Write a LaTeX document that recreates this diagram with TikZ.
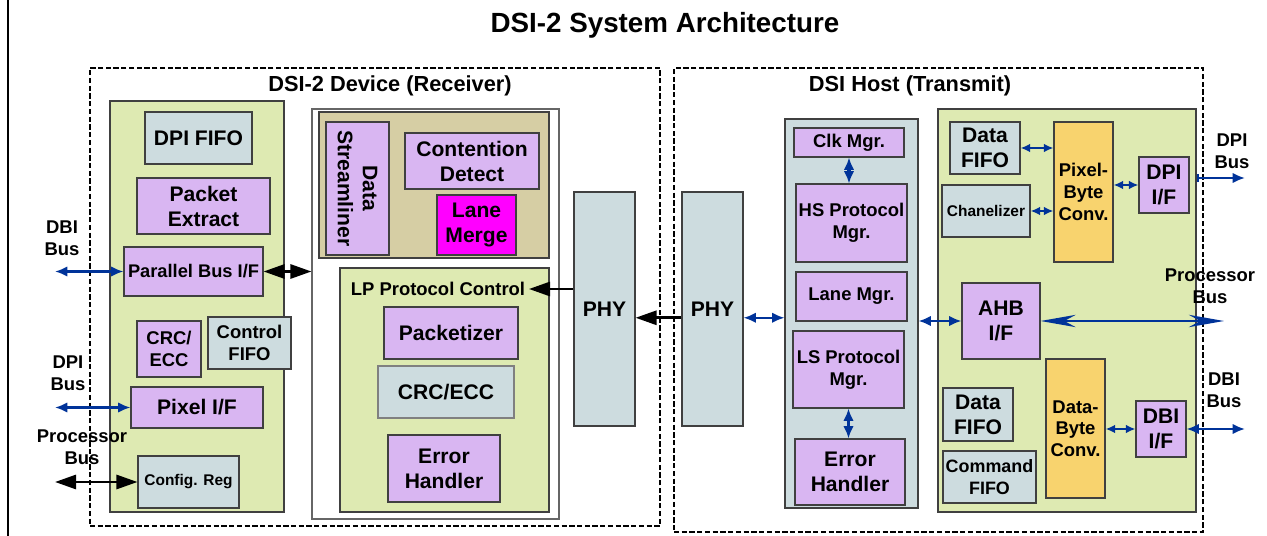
\documentclass[tikz,border=0pt]{standalone}
\usepackage{fontspec}
\setmainfont{Liberation Sans}
\usetikzlibrary{arrows.meta,calc}
\definecolor{Purp}{RGB}{217,182,242}
\definecolor{Slate}{RGB}{205,220,223}
\definecolor{Lime}{RGB}{222,234,178}
\definecolor{Tan}{RGB}{214,206,164}
\definecolor{Conv}{RGB}{248,211,110}
\definecolor{Mag}{RGB}{255,0,255}
\definecolor{Bus}{RGB}{0,51,153}
\definecolor{Edge}{RGB}{64,64,64}
\newcommand*{\px}{0.02cm}
\newcommand*{\fT}{\fontsize{15.8}{18}\selectfont\bfseries}
\newcommand*{\fH}{\fontsize{12.4}{14}\selectfont\bfseries}
\newcommand*{\fL}{\fontsize{12}{14.2}\selectfont\bfseries}
\newcommand*{\fM}{\fontsize{10.5}{12.3}\selectfont\bfseries}
\newcommand*{\fS}{\fontsize{8.8}{10.5}\selectfont\bfseries}
% block: style, name, x1, y1, x2, y2, text (pixel coordinates)
\newcommand{\blk}[7]{\node[#1,minimum width={(#5-#3)*\px},minimum height={(#6-#4)*\px}] (#2) at ({(#3+#5)/2},{(#4+#6)/2}) {#7};}
\tikzset{
	base/.style={draw=Edge,line width=0.6pt,inner sep=1pt,align=center,font=\fL},
	purp/.style={base,fill=Purp},
	slate/.style={base,fill=Slate},
	conv/.style={base,fill=Conv},
	panel/.style={draw=Edge,line width=0.6pt,fill=Lime,inner sep=0pt},
	frame/.style={draw=black,line width=1.3pt,dash pattern=on 3pt off 1.4pt,inner sep=0pt},
	lbl/.style={align=center,font=\fM,inner sep=0pt},
	barrow/.style={Bus,line width=1.3pt,{Latex[length=7pt,width=6pt]}-{Latex[length=7pt,width=6pt]}},
	hbarrow/.style={Bus,line width=1.1pt,{Latex[length=5.5pt,width=5pt]}-{Latex[length=5.5pt,width=5pt]}},
	karrow/.style={black,line width=1.6pt,-{Triangle[length=12pt,width=8pt]}},
	kboth/.style={karrow,{Triangle[length=12pt,width=8pt]}-{Triangle[length=12pt,width=8pt]}},
}
\begin{document}
\begin{tikzpicture}[x=0.02cm,y=-0.02cm]
\useasboundingbox (0,0) rectangle (1267,536);
%
%\draw[step=50,gray,very thin,opacity=0.2] (0,0) grid (1267,536);
%
\draw[line width=1.2pt] (8,0) -- (8,536);
\node[font=\fT] (title) at (665,25) {DSI-2 System Architecture};

% ---- receiver side
\begin{scope}
\blk{frame}{dev}{90}{68}{660}{526}{}
\node[font=\fH] (devtitle) at (390,86) {DSI-2 Device (Receiver)};

\blk{panel}{dpan}{110}{101}{284}{512}{}
\blk{slate}{dpififo}{145}{112}{252}{164}{DPI FIFO}
\blk{purp}{pkext}{137}{178}{270}{234}{Packet\\Extract}
\blk{purp,font=\fontsize{10.4}{12}\selectfont\bfseries}{parbus}{124}{247}{263}{296}{Parallel Bus I/F}
\blk{purp,font=\fM}{crcl}{137}{321}{201}{377}{CRC/\\ECC}
\blk{slate,font=\fM}{ctlfifo}{208}{317}{291}{369}{Control\\FIFO}
\blk{purp}{pixif}{131}{387}{263}{428}{Pixel I/F}
\blk{slate,font=\fS}{cfgreg}{138}{456}{239}{508}{Config. Reg}

\blk{base,draw=gray!80!black,fill=white}{mid}{312}{109}{559}{519}{}
\blk{base,fill=Tan}{tanbox}{319}{112}{549}{258}{}
\node[purp,rotate=-90,minimum width={(255-122)*\px},minimum height={(389-326)*\px}] (dstream) at ({(326+389)/2},{(122+255)/2}) {Data\\Streamliner};
\blk{purp}{contd}{405}{133}{539}{189}{Contention\\Detect}
\blk{purp,fill=Mag}{lmerge}{437}{195}{516}{255}{Lane\\Merge}
\blk{panel}{lpc}{340}{268}{549}{512}{}
\node[font=\fM,anchor=west,inner sep=2pt] (lptext) at (347,289) {LP Protocol Control};
\blk{purp}{pktz}{384}{307}{518}{359}{Packetizer}
\blk{slate,draw=gray}{crcm}{378}{366}{514}{418}{CRC/ECC}
\blk{purp}{derr}{388}{435}{500}{502}{Error\\Handler}
\blk{slate}{dphy}{574}{192}{635}{426}{PHY}
\end{scope}

% ---- transmitter side
\begin{scope}
\blk{frame}{host}{674}{68}{1203}{532}{}
\node[font=\fH] (hosttitle) at (910,86) {DSI Host (Transmit)};
\blk{slate}{hphy}{682}{192}{743}{426}{PHY}

\blk{slate}{mgr}{785}{119}{918}{508}{}
\blk{purp,font=\fM}{clk}{794}{128}{904}{157}{Clk Mgr.}
\blk{purp,font=\fM}{hsp}{796}{184}{907}{262}{HS Protocol\\Mgr.}
\blk{purp,font=\fM}{lane}{796}{272}{907}{321}{Lane Mgr.}
\blk{purp,font=\fM}{lsp}{793}{331}{904}{408}{LS Protocol\\Mgr.}
\blk{purp}{herr}{795}{439}{905}{505}{Error\\Handler}

\blk{panel}{hpan}{938}{109}{1196}{512}{}
\blk{slate}{hdfifo}{950}{122}{1020}{174}{Data\\FIFO}
\blk{slate,font=\fS}{chan}{942}{185}{1030}{237}{Chanelizer}
\blk{conv,font=\fM}{pbconv}{1054}{122}{1113}{262}{Pixel-\\Byte\\Conv.}
\blk{purp}{dpiif}{1139}{157}{1189}{213}{DPI\\I/F}
\blk{purp}{ahb}{962}{283}{1040}{359}{AHB\\I/F}
\blk{slate}{hdfifo2}{943}{388}{1013}{441}{Data\\FIFO}
\blk{slate,font=\fontsize{10.2}{12.3}\selectfont\bfseries}{cmdfifo}{943}{451}{1036}{503}{Command\\FIFO}
\blk{conv,font=\fM}{dbconv}{1046}{359}{1105}{498}{Data-\\Byte\\Conv.}
\blk{purp}{dbiif}{1136}{401}{1186}{457}{DBI\\I/F}
\end{scope}

% bus labels
\node[lbl] (dbilbl) at (62,238) {DBI\\Bus};
\node[lbl] (dpilbl) at (68,373) {DPI\\Bus};
\node[lbl] (proclbl) at (82,447) {Processor\\Bus};
\node[lbl] (dpilblR) at (1232,151) {DPI\\Bus};
\node[lbl] (proclblR) at (1210,286) {Processor\\Bus};
\node[lbl] (dbilblR) at (1224,390) {DBI\\Bus};

% connectors
\coordinate (dbiL) at (55,271.5);
\coordinate (dpiL) at (55,407.5);
\coordinate (procL) at (55,482);
\draw[barrow] (dbiL) -- (parbus.west);
\draw[barrow] (dpiL) -- (pixif.west);
\draw[kboth] (procL) -- (cfgreg.west);
\draw[kboth] (parbus.east) -- (parbus.east -| mid.west);
\draw[karrow] (dphy.west |- lptext.east) -- (lptext.east);
\draw[karrow] ([yshift=-5pt]hphy.west) -- ([yshift=-5pt]dphy.east);

\draw[barrow] ([yshift=-5pt]hphy.east) -- ([yshift=-5pt]hphy.east -| mgr.west);
\draw[barrow,line width=1.8pt] (clk.south) -- (clk.south |- hsp.north);
\draw[barrow,line width=1.8pt] (lsp.south) -- (lsp.south |- herr.north);
\draw[barrow] (ahb.west -| mgr.east) -- (ahb.west);

\draw[hbarrow] (hdfifo.east) -- (hdfifo.east -| pbconv.west);
\draw[hbarrow] (chan.east) -- (chan.east -| pbconv.west);
\draw[hbarrow] (dpiif.west -| pbconv.east) -- (dpiif.west);
\draw[hbarrow] (dbiif.west -| dbconv.east) -- (dbiif.west);

\coordinate (dpiR) at (1245,178);
\coordinate (procR) at (1224,321);
\coordinate (dbiR) at (1245,429);
\draw[barrow,{Bar[width=5pt]}-{Latex[length=7pt,width=6pt]}] (dpiR -| hpan.east) -- (dpiR);
\draw[barrow,{Stealth[length=20pt,width=7pt]}-{Stealth[length=20pt,width=7pt]}] (ahb.east) -- (procR);
\draw[barrow] (dbiif.east) -- (dbiR);
\end{tikzpicture}
\end{document}
